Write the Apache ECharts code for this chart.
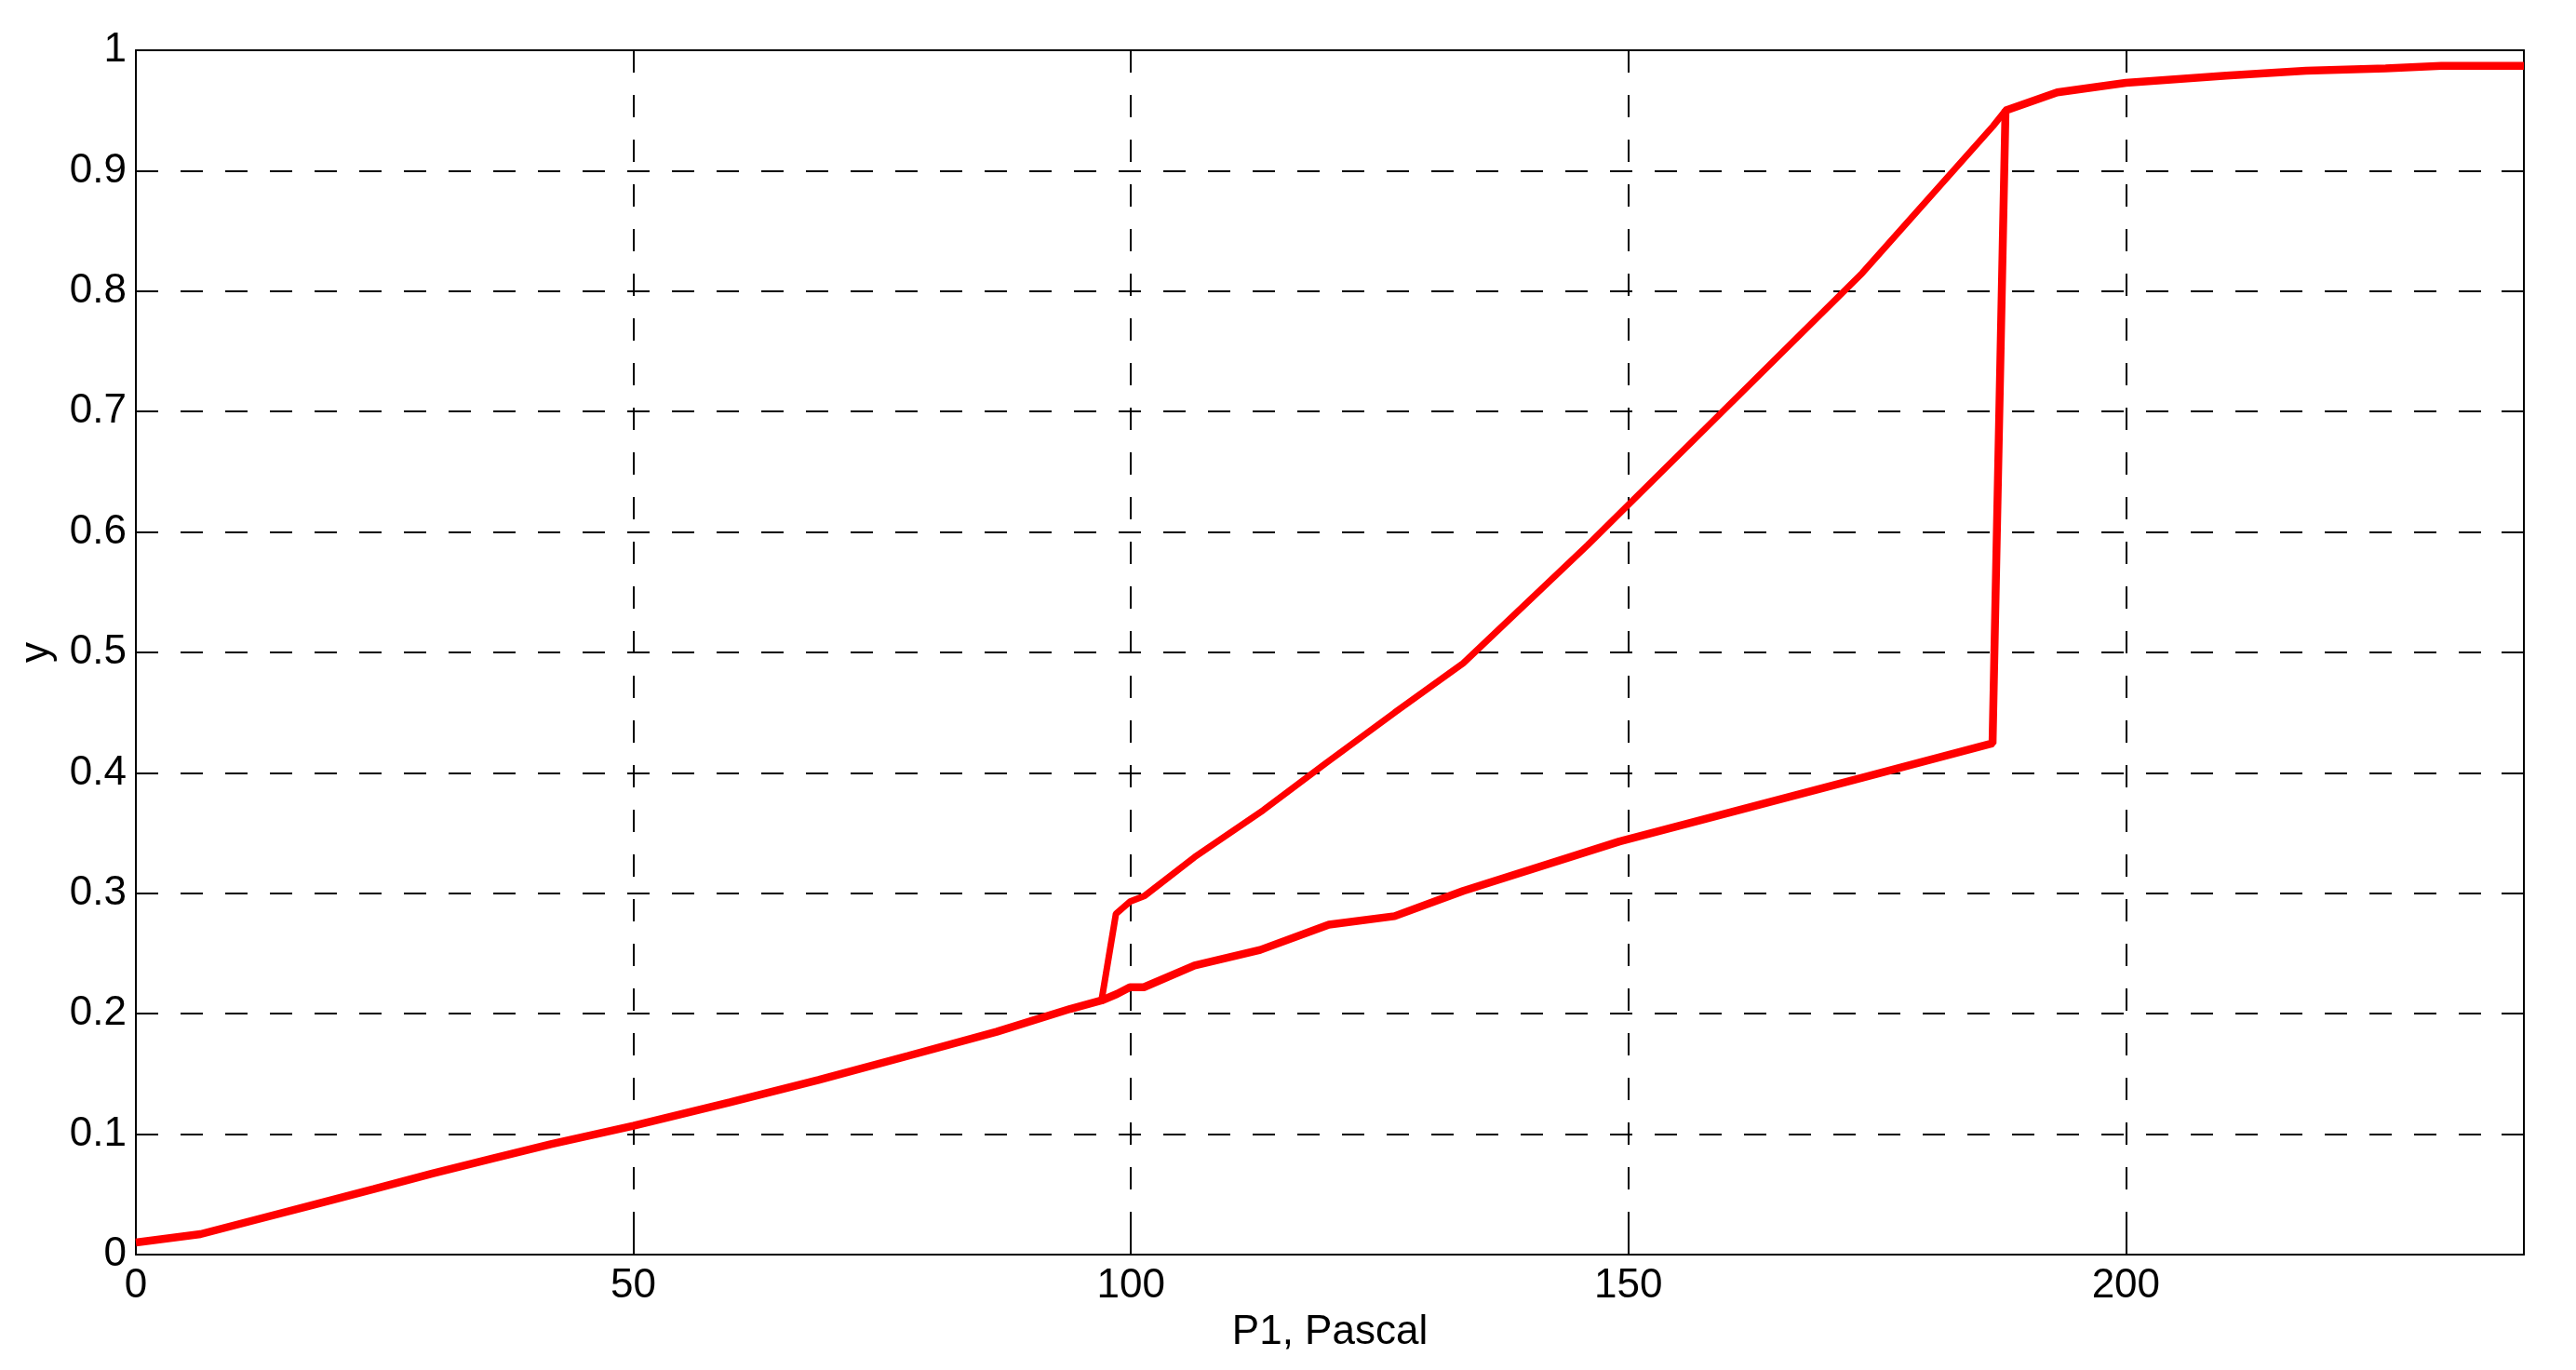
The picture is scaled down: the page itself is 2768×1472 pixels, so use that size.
<!DOCTYPE html>
<html>
<head>
<meta charset="utf-8">
<script src="https://cdn.jsdelivr.net/npm/echarts@6/dist/echarts.min.js"></script>
<style>
html,body{margin:0;padding:0;background:#fff;}
#chart{width:2768px;height:1472px;}
</style>
</head>
<body>
<div id="chart"></div>
<script>
// Lower (forward) path: P1 values and y values
const lowerX = [0, 6.5, 11.9, 17.9, 23.9, 29.8, 35.8, 41.8, 50, 59.7, 68.6, 77.6, 86.5, 93.9, 97.05, 98.6, 99.9, 101.3, 106.4, 113.0, 119.9, 126.5, 133.4, 149.1, 173.5, 186.6, 187.9, 193.1, 200, 210.1, 218.1, 226.1, 231.7, 240];
const lowerY = [0.010, 0.017, 0.0286, 0.0415, 0.0544, 0.0673, 0.0797, 0.0918, 0.107, 0.1265, 0.145, 0.165, 0.185, 0.204, 0.211, 0.2164, 0.222, 0.222, 0.240, 0.253, 0.274, 0.281, 0.302, 0.343, 0.396, 0.4245, 0.950, 0.965, 0.973, 0.979, 0.983, 0.985, 0.987, 0.987];
// Upper (return) branch
const upperX = [97.05, 98.5, 99.9, 101.4, 106.4, 113.3, 119.6, 126.5, 133.4, 145.9, 159.7, 173.5, 186.65, 187.9];
const upperY = [0.211, 0.283, 0.293, 0.298, 0.330, 0.369, 0.408, 0.450, 0.491, 0.589, 0.702, 0.815, 0.937, 0.950];

const xTicks = {min: 0, max: 240, interval: 50};
const yTicks = {min: 0, max: 1, interval: 0.1};
const xName = 'P1, Pascal';
const yName = 'y';

const lowerData = lowerX.map((x, i) => [x, lowerY[i]]);
const upperData = upperX.map((x, i) => [x, upperY[i]]);

const font = 'Liberation Sans, Arial, Helvetica, sans-serif';
const gridLine = {show: true, lineStyle: {color: '#000', width: 2, type: [24, 24]}};
const tickIn = {show: true, inside: true, length: 24, lineStyle: {color: '#000', width: 2}};
const axLine = {show: true, onZero: false, lineStyle: {color: '#000', width: 2}};

const chart = echarts.init(document.getElementById('chart'));
chart.setOption({
  animation: false,
  backgroundColor: '#fff',
  grid: {left: 146, right: 56, top: 54, bottom: 124, containLabel: false},
  xAxis: [{
    type: 'value', position: 'bottom', min: xTicks.min, max: xTicks.max, interval: xTicks.interval,
    name: xName, nameLocation: 'middle', nameGap: 62,
    nameTextStyle: {fontFamily: font, fontSize: 44, color: '#000'},
    axisLine: axLine, axisTick: tickIn, splitLine: gridLine,
    axisLabel: {fontFamily: font, fontSize: 44, color: '#000', margin: 12, showMaxLabel: false}
  }, {
    type: 'value', position: 'top', min: xTicks.min, max: xTicks.max, interval: xTicks.interval,
    axisLine: axLine, axisTick: tickIn, splitLine: {show: false}, axisLabel: {show: false}
  }],
  yAxis: [{
    type: 'value', position: 'left', min: yTicks.min, max: yTicks.max, interval: yTicks.interval,
    name: yName, nameLocation: 'middle', nameGap: 84,
    nameTextStyle: {fontFamily: font, fontSize: 44, color: '#000'},
    axisLine: axLine, axisTick: tickIn, splitLine: gridLine,
    axisLabel: {fontFamily: font, fontSize: 44, color: '#000', margin: 10,
      formatter: v => (Math.round(v * 10) / 10).toString()}
  }, {
    type: 'value', position: 'right', min: yTicks.min, max: yTicks.max, interval: yTicks.interval,
    axisLine: axLine, axisTick: tickIn, splitLine: {show: false}, axisLabel: {show: false}
  }],
  series: [{
    type: 'line', name: 'forward', data: lowerData, xAxisIndex: 0, yAxisIndex: 0,
    showSymbol: false, symbol: 'none', lineStyle: {color: '#ff0000', width: 8.5}, z: 5
  }, {
    type: 'line', name: 'return', data: upperData, xAxisIndex: 0, yAxisIndex: 0,
    showSymbol: false, symbol: 'none', lineStyle: {color: '#ff0000', width: 7}, z: 5
  }]
});
</script>
</body>
</html>
